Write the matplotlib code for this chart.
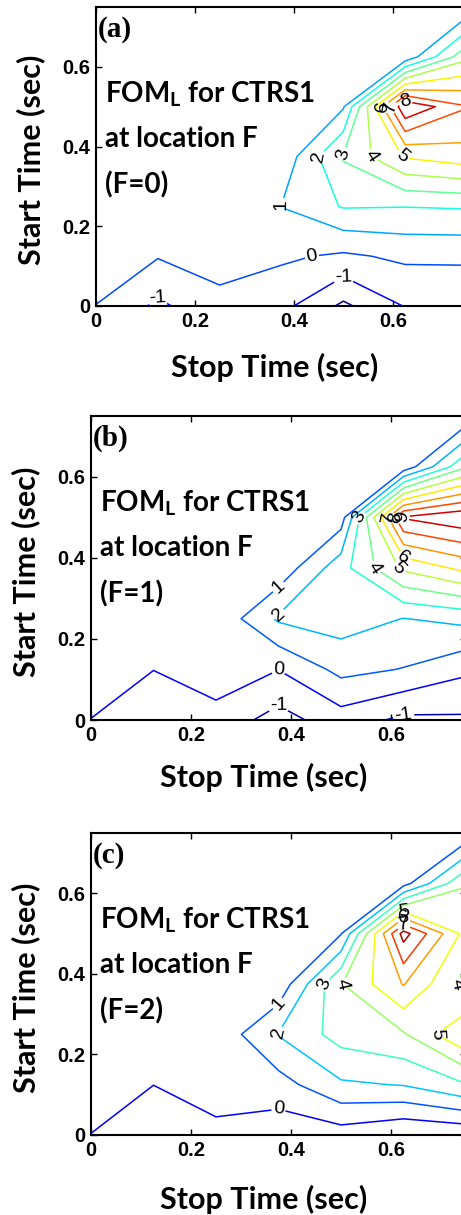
import numpy as np
import matplotlib
matplotlib.use("Agg")
from matplotlib import pyplot as plt

plt.rcParams["mathtext.fontset"] = "custom"
plt.rcParams["mathtext.rm"] = "Lato"
plt.rcParams["mathtext.bf"] = "Lato:bold"

# grid of the FOM map (0.125 s steps), rows = start time, columns = stop time
stop_time = [0, 0.125, 0.25, 0.375, 0.5, 0.625, 0.75]
start_time = [0, 0.125, 0.25, 0.375, 0.5, 0.625, 0.75]

fom_f0 = [
    [-0.01, -1.2, -0.29, -0.7, -2.2, -0.95, -0.9],
    [0.3, 0.06, 0.4, 0.154, -0.16, 0.19, 0.2],
    [0.3, 0.3, 0.3, 1.02, 2.08, 2.03, 2.1],
    [0.3, 0.3, 0.3, 0.3, 3.1, 5.1, 5.59],
    [0.3, 0.3, 0.3, 0.3, 0.9, 8.9, 7.05],
    [0.3, 0.3, 0.3, 0.3, 0.3, 0.3, 3.77],
    [0.3, 0.3, 0.3, 0.3, 0.3, 0.3, 0.3],
]
fom_f1 = [
    [-0.01, -0.9, -0.4, -1.4, -0.465, -1.22, -1.15],
    [0.3, 0.02, 0.62, 0.02, 1.296, 0.96, 0.19],
    [0.3, 0.3, 0.23, 2.15, 2.47, 1.98, 2.3],
    [0.3, 0.3, 0.3, 0.3, 2.6, 5.2, 6.3],
    [0.3, 0.3, 0.3, 0.3, 0.5, 9.1, 9.8],
    [0.3, 0.3, 0.3, 0.3, 0.3, 0.3, 3.9],
    [0.3, 0.3, 0.3, 0.3, 0.3, 0.3, 0.3],
]
fom_f2 = [
    [-0.01, -0.9, -0.4, -0.62, -0.463, -0.97, -0.81],
    [0.3, 0.01, 0.71, 0.59, 1.85, 2.05, 2.95],
    [0.3, 0.3, 0.28, 2.05, 3.41, 3.9, 5.98],
    [0.3, 0.3, 0.3, 0.3, 3.95, 6.06, 3.65],
    [0.3, 0.3, 0.3, 0.3, 0.95, 8.4, 4.6],
    [0.3, 0.3, 0.3, 0.3, 0.3, 0.6, 3.95],
    [0.3, 0.3, 0.3, 0.3, 0.3, 0.3, 0.3],
]

levels = list(range(-2, 10))
panel_tags = ["(a)", "(b)", "(c)"]
f_values = [0, 1, 2]
ticks = [0, 0.2, 0.4, 0.6]
tick_labels = ["0", "0.2", "0.4", "0.6"]

W, H = 461, 1215
# axes boxes in pixels: left, top, width, height
boxes = [(96, 7, 371, 299), (91, 416, 375, 304), (91, 833, 375, 302)]
xlabel_pos = [(0.481, -0.205), (0.459, -0.19), (0.459, -0.215)]

fig = plt.figure(figsize=(W / 100, H / 100), dpi=100)

for k, fom in enumerate([fom_f0, fom_f1, fom_f2]):
    l, t, w, h = boxes[k]
    ax = fig.add_axes([l / W, 1 - (t + h) / H, w / W, h / H])
    z = np.array(fom)
    cs = ax.contour(stop_time, start_time, z, levels=levels, cmap="jet",
                    vmin=z.min(), vmax=z.max(), linewidths=1.1)
    lbls = ax.clabel(cs, inline=True, fmt="%d", fontsize=14, colors="k",
                     inline_spacing=1)
    for txt in lbls:
        txt.set_fontfamily("Liberation Sans")
        txt.set_clip_on(True)

    ax.set_xlim(0, 0.75)
    ax.set_ylim(0, 0.75)
    ax.set_xticks(ticks)
    ax.set_xticklabels(tick_labels)
    ax.set_yticks(ticks)
    ax.set_yticklabels(tick_labels)
    ax.tick_params(direction="in", top=True, right=True, length=4, width=1,
                   pad=4, labelsize=14.5)
    for lab in ax.get_xticklabels() + ax.get_yticklabels():
        lab.set_fontfamily("Liberation Sans")
        lab.set_fontweight("bold")
    for sp in ax.spines.values():
        sp.set_linewidth(1.5)

    ax.set_xlabel("Stop Time (sec)", fontsize=22, fontweight="bold",
                  family="Lato")
    ax.xaxis.set_label_coords(*xlabel_pos[k])
    ax.xaxis.label.set_va("center")
    ax.set_ylabel("Start Time (sec)", fontsize=22, fontweight="bold",
                  family="Lato")
    ax.yaxis.set_label_coords(-0.175, 0.488)
    ax.yaxis.label.set_va("center")

    ax.text(0.004, 1 - 9 / h, panel_tags[k], transform=ax.transAxes,
            ha="left", va="top", fontsize=21, fontweight="bold",
            family="Liberation Serif")
    ax.text(0.024, 1 - 95 / h, r"FOM$_{\mathbf{L}}$ for CTRS1",
            transform=ax.transAxes, ha="left", va="baseline", fontsize=20,
            fontweight="bold", family="Lato")
    ax.text(0.024, 1 - 140 / h, "at location F", transform=ax.transAxes,
            ha="left", va="baseline", fontsize=20, fontweight="bold",
            family="Lato")
    ax.text(0.024, 1 - 186 / h, "(F=%d)" % f_values[k], transform=ax.transAxes,
            ha="left", va="baseline", fontsize=20, fontweight="bold",
            family="Lato")

fig.savefig("out.png", dpi=100)
